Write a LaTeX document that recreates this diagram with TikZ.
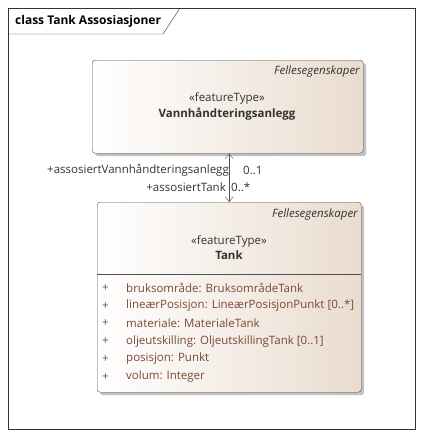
\documentclass[tikz,border=0pt]{standalone}
\usepackage{fontspec}
\setmainfont{Open Sans}
\usetikzlibrary{arrows.meta,positioning,shadows}

\definecolor{umlbrun}{RGB}{234,220,207}
\definecolor{umltekst}{RGB}{122,72,52}
\definecolor{umlkant}{RGB}{80,80,80}
\definecolor{umlgraa}{RGB}{50,50,50}

\newcommand{\umlfont}{\fontsize{11.5}{14}\selectfont}

\tikzset{
    klasse/.style={draw=umlkant, rounded corners=3pt, left color=white, right color=umlbrun,
        anchor=north west, inner sep=0pt,
        drop shadow={shadow xshift=3pt, shadow yshift=-3pt, fill=black!40, opacity=.6}},
    tekst/.style={font=\umlfont, text=umlgraa, inner sep=0pt},
    attr/.style={tekst, text=umltekst, anchor=west},
    assoc/.style={draw=umlkant, {Straight Barb[length=5pt,width=8pt]}-{Straight Barb[length=5pt,width=8pt]}}
}

\begin{document}
\begin{tikzpicture}[x=1pt, y=-1pt]
\useasboundingbox (0,0) rectangle (423,437);

% ramme
\draw[umlgraa] (8,8) rectangle (415,429);
\draw[umlgraa] (8,34) -- (163,34) -- (180,8);
\node[tekst, anchor=west, font=\fontsize{12}{14}\selectfont\bfseries, text=black] (tittel) at (15,21) {class Tank Assosiasjoner};

% klassene
\node[klasse, minimum width=271pt, minimum height=93pt] (vann) at (92,60) {};
\node[klasse, minimum width=264pt, minimum height=190pt] (tank) at (97,202) {};

\node[tekst, font=\umlfont\itshape, anchor=east] (vannPakke) at (360,72) {Fellesegenskaper};
\node[tekst] (vannStereo) at (227,98) {«featureType»};
\node[tekst, font=\umlfont\bfseries, below=4pt of vannStereo] (vannNavn) {Vannhåndteringsanlegg};

\node[tekst, font=\umlfont\itshape, anchor=east] (tankPakke) at (358,215) {Fellesegenskaper};
\node[tekst] (tankStereo) at (229,241) {«featureType»};
\node[tekst, font=\umlfont\bfseries, below=4pt of tankStereo] (tankNavn) {Tank};

\coordinate (skille) at (97,274);
\draw[umlkant] (skille) -- (skille -| tank.east);

\foreach \a [count=\i] in {{bruksområde: BruksområdeTank},
        {lineærPosisjon: LineærPosisjonPunkt [0..*]},
        {materiale: MaterialeTank},
        {oljeutskilling: OljeutskillingTank [0..1]},
        {posisjon: Punkt},
        {volum: Integer}}{
    \node[attr] (pluss-\i) at (102,270+17.8*\i) {+};
    \node[attr] (attr-\i) at (126,270+17.8*\i) {\a};
}

% assosiasjon
\draw[assoc] (tank.north) -- (vann.south -| tank.north);
\node[tekst, anchor=east] (rolleVann) at (229,170) {+assosiertVannhåndteringsanlegg};
\node[tekst, anchor=west] (multVann) at (243,170) {0..1};
\node[tekst, anchor=east] (rolleTank) at (226,187) {+assosiertTank};
\node[tekst, anchor=west] (multTank) at (231,187) {0..*};
\end{tikzpicture}
\end{document}
